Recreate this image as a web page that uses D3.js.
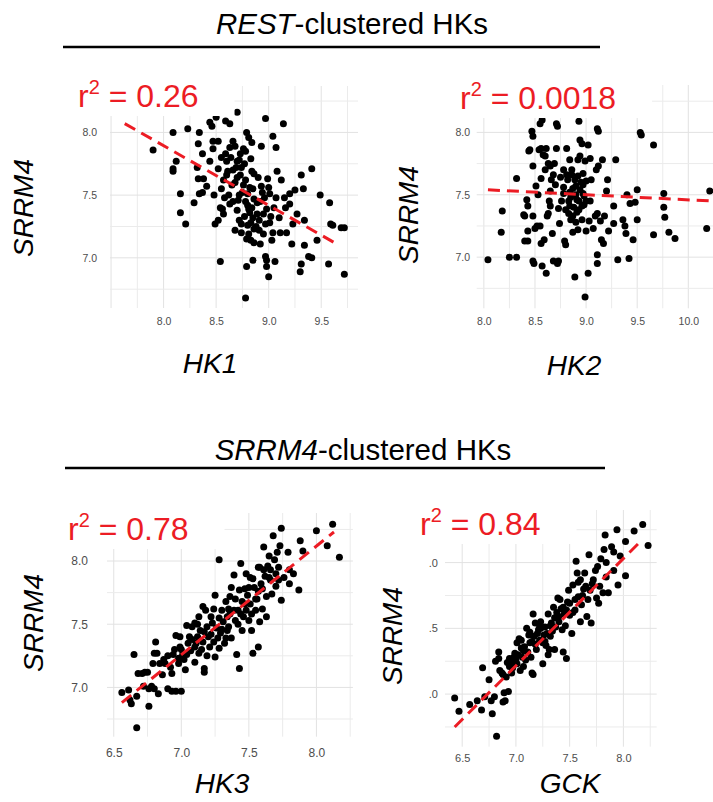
<!DOCTYPE html>
<html lang="en">
<head>
<meta charset="utf-8">
<title>SRRM4 vs HK expression</title>
<style>
  body { margin: 0; background: #fff; }
  svg text { font-family: "Liberation Sans", Arial, sans-serif; }
  .tick text { fill: #4d4d4d; }
  .grid-major { stroke: #e2e2e2; stroke-width: 1; }
  .grid-minor { stroke: #ebebeb; stroke-width: 1; }
</style>
</head>
<body>
<script src="https://d3js.org/d3.v7.min.js"></script>
<script>

// data (log expression)
const hk1Points = [
  [7.90,7.86],[8.09,8.00],[8.09,7.71],[8.09,7.69],[8.12,7.77],[8.16,7.51],[8.16,7.36],[8.21,7.27],[8.23,8.03],[8.29,7.44],
  [8.34,8.00],[8.33,7.91],[8.32,7.72],[8.33,7.63],[8.34,7.51],[8.37,7.52],[8.37,7.83],[8.38,7.63],[8.41,7.57],[8.44,7.77],
  [8.44,8.08],[8.46,8.05],[8.47,7.93],[8.47,7.87],[8.48,7.50],[8.49,7.27],[8.52,7.30],[8.50,8.12],[8.52,7.93],[8.52,7.71],
  [8.54,7.40],[8.56,7.39],[8.54,6.97],[8.55,7.55],[8.57,7.62],[8.58,7.48],[8.59,8.09],[8.63,8.07],[8.59,7.83],[8.60,7.77],
  [8.61,7.69],[8.63,7.88],[8.63,7.43],[8.65,7.58],[8.66,7.93],[8.68,7.89],[8.68,7.22],[8.70,8.16],[8.70,7.77],[8.70,7.64],
  [8.71,7.46],[8.72,7.30],[8.74,7.27],[8.73,7.83],[8.76,7.87],[8.78,7.85],[8.74,7.72],[8.77,7.75],[8.78,7.62],[8.79,8.00],
  [8.81,7.96],[8.84,7.92],[8.78,6.68],[8.79,6.93],[8.80,7.51],[8.81,7.39],[8.82,7.36],[8.81,7.19],[8.83,7.14],[8.82,7.56],
  [8.83,7.79],[8.84,7.69],[8.86,7.67],[8.85,7.32],[8.85,6.98],[8.86,7.23],[8.89,7.44],[8.90,7.64],[8.91,7.30],[8.92,7.11],
  [8.93,7.89],[8.94,7.52],[8.95,7.19],[8.97,7.01],[8.98,6.98],[8.98,6.93],[8.97,8.11],[8.98,7.39],[8.99,7.63],[9.00,6.85],
  [9.00,7.56],[9.01,7.51],[9.01,7.28],[9.03,7.14],[9.04,7.20],[9.04,7.97],[9.05,7.40],[9.06,6.97],[9.07,7.88],[9.08,7.69],
  [9.10,7.32],[9.11,7.20],[9.12,7.62],[9.14,8.07],[9.15,7.48],[9.16,7.40],[9.17,7.20],[9.20,7.51],[9.20,7.43],[9.22,7.11],
  [9.23,7.27],[9.25,7.54],[9.27,7.35],[9.30,6.89],[9.31,7.66],[9.31,6.95],[9.33,7.55],[9.34,7.30],[9.34,7.10],[9.38,7.01],
  [9.41,7.00],[9.41,7.71],[9.46,7.14],[9.49,7.50],[9.57,6.95],[9.58,7.44],[9.59,7.27],[9.61,7.26],[9.69,7.24],[9.72,7.24],
  [9.72,6.87],[8.66,7.70],[8.72,7.78],[8.75,7.52],[8.80,7.42],[8.86,7.47],[8.70,7.38],[8.77,7.33],[8.92,7.45],[8.95,7.35],
  [8.88,7.25],[8.83,7.28],[8.62,7.50],[8.57,7.35],[8.68,7.60],[8.93,7.57],[9.02,7.33],[9.07,7.48],[8.79,7.15],[8.86,7.12],
  [8.66,7.45],[8.64,7.80],[8.69,7.72],[8.73,7.66],[8.76,7.58],[8.72,7.50],[8.78,7.45],[8.84,7.40],[8.89,7.35],[8.80,7.26],
  [8.74,7.20],[8.91,7.22],[8.96,7.48],[8.85,7.55],[8.60,7.66],[8.55,7.80],[8.97,7.27]
];

const hk2Points = [
  [8.04,6.98],[8.17,7.20],[8.18,7.37],[8.25,7.00],[8.32,7.00],[8.32,7.63],[8.39,7.34],[8.40,7.33],[8.48,7.33],[8.42,7.46],
  [8.43,7.41],[8.43,7.13],[8.40,7.13],[8.43,7.21],[8.50,7.23],[8.44,7.85],[8.45,7.86],[8.47,8.01],[8.48,7.97],[8.48,6.97],
  [8.49,6.95],[8.48,7.73],[8.51,7.57],[8.52,7.25],[8.55,7.25],[8.54,7.86],[8.56,7.87],[8.55,8.07],[8.57,8.10],[8.56,7.63],
  [8.56,7.11],[8.59,7.14],[8.57,6.93],[8.58,7.82],[8.60,7.81],[8.61,7.87],[8.61,6.87],[8.62,7.33],[8.63,7.35],[8.63,7.75],
  [8.65,7.73],[8.64,7.45],[8.65,7.41],[8.65,7.53],[8.66,7.62],[8.67,7.19],[8.68,6.97],[8.72,6.95],[8.73,6.97],[8.69,7.75],
  [8.71,8.07],[8.72,8.05],[8.71,7.87],[8.73,7.39],[8.74,7.27],[8.78,7.51],[8.78,7.70],[8.81,7.66],[8.79,7.13],[8.80,7.10],
  [8.81,7.87],[8.83,7.35],[8.84,7.41],[8.84,7.78],[8.85,7.30],[8.87,7.33],[8.86,7.66],[8.89,6.84],[8.90,7.57],[8.91,7.46],
  [8.92,7.22],[8.92,7.78],[8.94,7.81],[8.93,8.09],[8.94,7.94],[8.96,7.91],[8.94,7.54],[8.96,7.41],[8.97,7.67],[8.97,7.51],
  [8.98,7.49],[8.99,6.68],[8.99,7.77],[9.00,7.21],[9.00,7.61],[9.02,6.87],[9.02,7.90],[9.03,7.29],[9.04,7.45],[9.04,7.79],
  [9.05,7.62],[9.07,7.23],[9.09,7.33],[9.11,7.35],[9.10,7.70],[9.12,7.73],[9.11,7.02],[9.11,6.95],[9.11,8.03],[9.12,8.01],
  [9.14,7.29],[9.15,7.14],[9.17,7.11],[9.16,7.78],[9.18,7.33],[9.20,7.53],[9.21,7.62],[9.22,7.21],[9.27,7.41],[9.27,7.27],
  [9.29,7.78],[9.31,6.98],[9.36,7.30],[9.38,7.25],[9.39,7.19],[9.40,7.50],[9.42,6.99],[9.43,7.43],[9.46,7.14],[9.48,7.44],
  [9.50,7.54],[9.50,7.30],[9.53,8.00],[9.54,7.98],[9.66,7.18],[9.66,7.90],[9.76,7.51],[9.76,7.40],[9.77,7.32],[9.81,7.20],
  [9.87,7.15],[10.18,7.23],[10.21,7.53],[8.82,7.62],[8.87,7.55],[8.90,7.50],[8.93,7.45],[8.88,7.40],[8.95,7.60],[8.85,7.48],
  [8.80,7.38],[8.91,7.36],[8.96,7.30],[8.86,7.70],[8.75,7.64],[8.78,7.56],[8.70,7.58],[8.92,7.65],[8.98,7.42],[8.84,7.52],
  [8.89,7.62],[8.93,7.38],[8.83,7.45],[8.97,7.58],[8.90,7.28],[8.76,7.45],[8.68,7.66],[8.60,7.70],[8.53,7.50],[9.00,7.45],
  [8.87,7.20]
];

const hk3Points = [
  [6.56,6.96],[6.62,6.90],[6.63,6.87],[6.61,6.98],[6.65,7.26],[6.67,6.68],[6.67,6.93],[6.68,7.11],[6.71,7.11],[6.72,7.01],
  [6.73,7.12],[6.75,7.12],[6.76,6.99],[6.76,6.85],[6.78,7.01],[6.80,6.99],[6.79,7.19],[6.80,7.27],[6.81,7.36],[6.82,7.27],
  [6.83,6.95],[6.84,7.19],[6.87,7.22],[6.88,7.19],[6.90,6.99],[6.93,6.97],[6.96,6.97],[7.00,6.97],[6.92,7.16],[6.93,7.11],
  [6.94,7.26],[6.95,7.30],[6.96,7.41],[6.99,7.40],[6.98,7.19],[6.99,7.32],[7.01,7.26],[7.02,7.22],[7.03,7.14],[7.04,7.49],
  [7.05,7.35],[7.06,7.40],[7.07,7.29],[7.08,7.48],[7.10,7.51],[7.10,7.20],[7.11,7.35],[7.12,7.40],[7.13,7.56],[7.13,7.27],
  [7.14,7.45],[7.16,7.36],[7.16,7.64],[7.18,7.61],[7.17,7.12],[7.17,7.15],[7.19,7.48],[7.20,7.40],[7.21,7.32],[7.22,7.56],
  [7.23,7.51],[7.24,7.62],[7.25,7.73],[7.25,7.24],[7.27,7.39],[7.28,8.01],[7.28,7.31],[7.29,7.43],[7.30,7.61],[7.31,7.52],
  [7.33,7.39],[7.33,7.68],[7.34,7.56],[7.35,7.48],[7.36,7.72],[7.37,7.39],[7.37,7.79],[7.39,7.61],[7.39,7.89],[7.40,7.53],
  [7.41,7.26],[7.42,7.61],[7.43,7.77],[7.43,7.15],[7.44,7.98],[7.45,7.45],[7.45,7.68],[7.46,7.56],[7.47,7.78],[7.48,7.90],
  [7.48,7.61],[7.49,7.73],[7.50,7.53],[7.51,7.66],[7.51,7.87],[7.53,7.86],[7.52,7.45],[7.53,7.27],[7.54,7.79],[7.55,7.61],
  [7.56,7.70],[7.57,7.95],[7.58,7.95],[7.57,7.32],[7.58,7.52],[7.59,7.82],[7.60,7.62],[7.61,8.11],[7.61,7.93],[7.63,7.72],
  [7.63,7.56],[7.65,8.04],[7.65,7.87],[7.66,7.93],[7.67,7.74],[7.68,8.20],[7.69,8.01],[7.70,7.90],[7.71,8.07],[7.72,7.95],
  [7.72,7.85],[7.73,8.12],[7.74,8.26],[7.74,7.69],[7.76,7.87],[7.79,8.07],[7.80,7.93],[7.80,7.82],[7.83,7.90],[7.87,7.77],
  [7.88,8.16],[7.90,8.08],[8.00,8.24],[8.08,8.12],[8.12,8.29],[8.17,8.03],[7.08,7.38],[7.15,7.30],[7.22,7.42],[7.26,7.47],
  [7.32,7.35],[7.12,7.50],[7.36,7.58],[7.42,7.50],[7.47,7.66],[7.55,7.70],[7.60,7.78],[7.66,7.85],[7.70,7.80],[7.04,7.26],
  [6.98,7.23],[6.90,7.25],[7.19,7.25],[7.40,7.70],[7.62,7.88],[7.28,7.55],[7.17,7.44],[7.24,7.36],[7.30,7.46],[7.35,7.62],
  [7.44,7.58],[7.50,7.79],[7.57,7.76],[7.64,7.96],[7.10,7.32],[7.00,7.30],[6.86,7.10],[7.34,7.45],[7.52,7.58]
];

const gckPoints = [
  [6.43,6.97],[6.47,6.87],[6.57,6.92],[6.64,6.95],[6.68,6.88],[6.69,7.20],[6.71,6.98],[6.75,7.11],[6.78,6.85],[6.77,6.95],
  [6.80,6.98],[6.82,6.68],[6.81,7.25],[6.84,7.27],[6.84,7.32],[6.85,7.18],[6.87,7.16],[6.88,6.94],[6.89,7.01],[6.90,6.95],
  [6.91,7.13],[6.93,7.02],[6.94,7.21],[6.94,7.27],[6.96,7.16],[6.98,7.28],[6.99,7.31],[7.01,7.23],[7.01,7.39],[7.03,7.42],
  [7.05,7.41],[7.04,7.18],[7.06,7.28],[7.07,7.21],[7.08,7.36],[7.10,7.50],[7.11,7.32],[7.13,7.39],[7.14,7.28],[7.15,7.16],
  [7.16,7.15],[7.16,7.61],[7.17,7.44],[7.18,7.54],[7.19,7.34],[7.21,7.49],[7.22,7.41],[7.23,7.55],[7.25,7.23],[7.25,7.39],
  [7.27,7.51],[7.29,7.46],[7.30,7.61],[7.31,7.34],[7.32,7.44],[7.33,7.54],[7.35,7.66],[7.36,7.34],[7.37,7.51],[7.39,7.73],
  [7.40,7.59],[7.41,7.72],[7.43,7.49],[7.44,7.32],[7.45,7.61],[7.47,7.27],[7.47,7.64],[7.49,7.79],[7.50,7.60],[7.50,7.69],
  [7.52,7.46],[7.53,7.83],[7.55,7.64],[7.56,8.01],[7.57,7.92],[7.58,7.74],[7.60,7.87],[7.60,7.55],[7.61,7.68],[7.63,7.80],
  [7.64,7.92],[7.66,7.59],[7.67,7.72],[7.68,8.06],[7.69,7.79],[7.70,7.54],[7.72,7.87],[7.74,7.94],[7.75,7.73],[7.76,7.97],
  [7.77,7.69],[7.78,7.82],[7.79,8.03],[7.81,7.77],[7.82,8.10],[7.83,8.21],[7.84,7.89],[7.84,8.00],[7.86,7.77],[7.89,8.12],
  [7.91,8.08],[7.91,7.94],[7.94,8.25],[7.95,7.83],[7.97,8.05],[8.02,8.16],[8.02,7.90],[8.10,8.24],[8.18,8.29],[8.23,8.13],
  [6.96,7.24],[7.02,7.30],[7.09,7.26],[7.12,7.45],[7.20,7.46],[7.26,7.45],[7.28,7.37],[7.34,7.48],[7.38,7.62],[7.44,7.66],
  [7.48,7.70],[7.53,7.62],[7.58,7.85],[7.62,7.75],[7.71,7.84],[6.92,7.24],[7.05,7.35],[7.15,7.40],[7.23,7.50],[7.40,7.55],
  [7.00,7.26],[7.07,7.33],[7.13,7.47],[7.18,7.38],[7.22,7.52],[7.27,7.40],[7.32,7.52],[7.36,7.58],[7.42,7.65],[7.46,7.52],
  [7.55,7.72],[7.65,7.82],[6.88,7.15],[6.97,7.20],[7.30,7.30]
];

// dashed linear fits: [start, end]
const hk1Fit = [[7.63, 8.07], [9.67, 7.10]];
const hk2Fit = [[8.04, 7.54], [10.23, 7.45]];
const hk3Fit = [[6.56, 6.88], [8.13, 8.23]];
const gckFit = [[6.43, 6.75], [8.17, 8.17]];

const r2Values = ["0.26", "0.0018", "0.78", "0.84"];
const geneNames = ["HK1", "HK2", "HK3", "GCK"];
const srrm4Ticks = [7.0, 7.5, 8.0];
const hk1Ticks = [8.0, 8.5, 9.0, 9.5];
const hk2Ticks = [8.0, 8.5, 9.0, 9.5, 10.0];
const lowTicks = [6.5, 7.0, 7.5, 8.0];

const fmt = d3.format(".1f");

// layout for each panel
const panels = [
  { pts: hk1Points, fit: hk1Fit, r2: r2Values[0], gene: geneNames[0], xTicks: hk1Ticks,
    box: { l: 110, r: 358, t: 86, b: 308 }, xDom: [7.49, 9.85], yDom: [6.60, 8.37],
    yLabX: 97, xLabY: 326, tickSize: 10.5, r2At: [78, 107], yTitle: [33, 208], xTitle: [210, 373], yFmt: fmt },
  { pts: hk2Points, fit: hk2Fit, r2: r2Values[1], gene: geneNames[1], xTicks: hk2Ticks,
    box: { l: 476.7, r: 720, t: 85, b: 308.3 }, xDom: [7.93, 10.31], yDom: [6.59, 8.38],
    yLabX: 470, xLabY: 326, tickSize: 10.5, r2At: [460, 109], yTitle: [418, 215], xTitle: [574, 375], yFmt: fmt },
  { pts: hk3Points, fit: hk3Fit, r2: r2Values[2], gene: geneNames[2], xTicks: lowTicks,
    box: { l: 107, r: 352.9, t: 513, b: 736.7 }, xDom: [6.45, 8.27], yDom: [6.61, 8.38],
    yLabX: 88, xLabY: 756, tickSize: 12, r2At: [68, 540], yTitle: [43, 623], xTitle: [222, 793], yFmt: fmt },
  { pts: gckPoints, fit: gckFit, r2: r2Values[3], gene: geneNames[3], xTicks: lowTicks,
    box: { l: 445, r: 656.7, t: 510, b: 746.7 }, xDom: [6.34, 8.31], yDom: [6.60, 8.40],
    yLabX: 438, xLabY: 762, tickSize: 11, r2At: [420, 535], yTitle: [402, 636], xTitle: [570, 793],
    yFmt: d => fmt(d).slice(1) }
];

const svg = d3.select("body")
  .append("svg")
  .attr("width", 713)
  .attr("height", 802);

// section titles
const titles = [
  { italic: "REST", rest: "-clustered HKs", x: 352, y: 34, line: [63, 600, 47] },
  { italic: "SRRM4", rest: "-clustered HKs", x: 363, y: 460, line: [65, 605, 468] }
];

titles.forEach(t => {
  const txt = svg.append("text")
    .attr("x", t.x)
    .attr("y", t.y)
    .attr("text-anchor", "middle")
    .style("font-size", "29.5px")
    .style("fill", "#000");
  txt.append("tspan").style("font-style", "italic").text(t.italic);
  txt.append("tspan").text(t.rest);
  svg.append("line")
    .attr("x1", t.line[0]).attr("x2", t.line[1])
    .attr("y1", t.line[2]).attr("y2", t.line[2])
    .attr("stroke", "#000")
    .attr("stroke-width", 2.5);
});

panels.forEach(p => {
  const g = svg.append("g");
  const x = d3.scaleLinear().domain(p.xDom).range([p.box.l, p.box.r]);
  const y = d3.scaleLinear().domain(p.yDom).range([p.box.b, p.box.t]);

  // grid every 0.25, major on the half units
  const gx = d3.range(Math.ceil(p.xDom[0] * 4) / 4, p.xDom[1] + 1e-9, 0.25);
  const gy = d3.range(Math.ceil(p.yDom[0] * 4) / 4, p.yDom[1] + 1e-9, 0.25);
  const isMajor = v => Math.abs(v * 2 - Math.round(v * 2)) < 1e-6;

  g.selectAll(".vgrid")
    .data(gx)
    .join("line")
    .attr("class", d => isMajor(d) ? "grid-major" : "grid-minor")
    .attr("x1", d => x(d)).attr("x2", d => x(d))
    .attr("y1", p.box.t).attr("y2", p.box.b);

  g.selectAll(".hgrid")
    .data(gy)
    .join("line")
    .attr("class", d => isMajor(d) ? "grid-major" : "grid-minor")
    .attr("x1", p.box.l).attr("x2", p.box.r)
    .attr("y1", d => y(d)).attr("y2", d => y(d));

  // tick labels
  const xAxis = d3.axisBottom(x).tickValues(p.xTicks).tickFormat(fmt).tickSize(0).tickPadding(0);
  g.append("g")
    .attr("transform", "translate(0," + (p.xLabY - 8) + ")")
    .call(xAxis)
    .call(a => a.select(".domain").remove())
    .selectAll("text").style("font-size", p.tickSize + "px");

  const yAxis = d3.axisLeft(y).tickValues(srrm4Ticks).tickFormat(p.yFmt).tickSize(0).tickPadding(0);
  g.append("g")
    .attr("transform", "translate(" + p.yLabX + ",0)")
    .call(yAxis)
    .call(a => a.select(".domain").remove())
    .selectAll("text").style("font-size", p.tickSize + "px");

  // points
  g.selectAll(".dot")
    .data(p.pts)
    .join("circle")
    .attr("cx", d => x(d[0]))
    .attr("cy", d => y(d[1]))
    .attr("r", 3.5)
    .attr("fill", "#000");

  // fit
  g.append("line")
    .attr("x1", x(p.fit[0][0])).attr("y1", y(p.fit[0][1]))
    .attr("x2", x(p.fit[1][0])).attr("y2", y(p.fit[1][1]))
    .attr("stroke", "#ec1c24")
    .attr("stroke-width", 3)
    .attr("stroke-dasharray", "12,7");

  // r squared label on a white patch
  const bg = g.append("rect").attr("fill", "#fff");
  const lab = g.append("text")
    .attr("x", p.r2At[0])
    .attr("y", p.r2At[1])
    .style("font-size", "32px")
    .style("fill", "#ec1c24");
  lab.append("tspan").text("r");
  lab.append("tspan").attr("dy", -13).style("font-size", "20px").text("2");
  lab.append("tspan").attr("dy", 13).text(" = " + p.r2);
  const bb = lab.node().getBBox();
  bg.attr("x", bb.x - 4).attr("y", bb.y)
    .attr("width", bb.width + 40).attr("height", bb.height + 2);

  // axis titles
  g.append("text")
    .attr("transform", "translate(" + p.yTitle[0] + "," + p.yTitle[1] + ") rotate(-90)")
    .attr("text-anchor", "middle")
    .style("font-size", "28px")
    .style("font-style", "italic")
    .text("SRRM4");

  g.append("text")
    .attr("x", p.xTitle[0])
    .attr("y", p.xTitle[1])
    .attr("text-anchor", "middle")
    .style("font-size", "28px")
    .style("font-style", "italic")
    .text(p.gene);
});
</script>
</body>
</html>
